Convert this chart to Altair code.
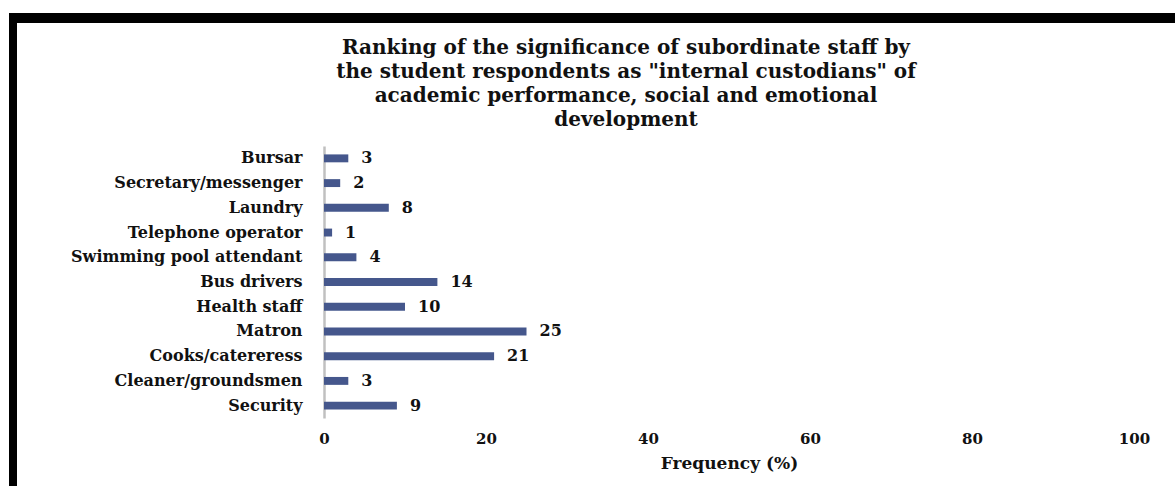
import altair as alt
import pandas as pd

# Staff categories (top to bottom) and their frequencies in percent
staff = [
    "Bursar",
    "Secretary/messenger",
    "Laundry",
    "Telephone operator",
    "Swimming pool attendant",
    "Bus drivers",
    "Health staff",
    "Matron",
    "Cooks/catereress",
    "Cleaner/groundsmen",
    "Security",
]
frequency = [3, 2, 8, 1, 4, 14, 10, 25, 21, 3, 9]
x_ticks = [0, 20, 40, 60, 80, 100]

title_lines = [
    "Ranking of the significance of subordinate staff by",
    'the student respondents as "internal custodians" of',
    "academic performance, social and emotional",
    "development",
]

df = pd.DataFrame({"staff": staff, "freq": frequency})

WIDE = "DejaVu Serif"
BAR = "#45578c"
INK = "#111111"

x_enc = alt.X(
    "freq:Q",
    scale=alt.Scale(domain=[0, 100]),
    axis=alt.Axis(
        values=x_ticks,
        title="Frequency (%)",
        grid=False,
        domain=False,
        ticks=False,
        labelFlush=False,
        labelPadding=13,
        titlePadding=9,
        labelFontSize=15,
        titleFontSize=17,
    ),
)
y_enc = alt.Y(
    "staff:N",
    sort=staff,
    scale=alt.Scale(paddingInner=0.68, paddingOuter=0.34),
    axis=alt.Axis(
        title=None,
        ticks=False,
        domainColor="#c0c0c0",
        domainWidth=2.5,
        labelPadding=22,
        labelFontSize=16,
        labelLimit=0,
    ),
)

bars = alt.Chart(df).mark_bar(color=BAR).encode(x=x_enc, y=y_enc)

labels = alt.Chart(df).mark_text(
    align="left", dx=13, font=WIDE, fontWeight="bold", fontSize=16, color=INK
).encode(x="freq:Q", y=alt.Y("staff:N", sort=staff), text="freq:Q")

# Four-line heading centred over the figure
heading = alt.Chart(pd.DataFrame({"k": [0]})).mark_text(
    text=title_lines,
    font=WIDE,
    fontWeight="bold",
    fontSize=20,
    lineHeight=24,
    color=INK,
    align="center",
    baseline="top",
).encode(x=alt.value(302), y=alt.value(-108))

# Black frame along the top and left edges of the figure
frame_top = alt.Chart(df).mark_rule(color="black", strokeWidth=9).encode(
    x=alt.value(-315), x2=alt.value(860), y=alt.value(-128)
)
frame_left = alt.Chart(df).mark_rule(color="black", strokeWidth=8).encode(
    x=alt.value(-311), y=alt.value(-132), y2=alt.value(345)
)

chart = (
    alt.layer(bars, labels, heading, frame_top, frame_left)
    .properties(
        width=810,
        height=272,
        padding={"left": 324, "top": 146, "right": 41, "bottom": 68},
        autosize=alt.AutoSizeParams(type="none"),
    )
    .configure_view(stroke=None)
    .configure_axis(
        labelFont=WIDE,
        labelFontWeight="bold",
        labelColor=INK,
        titleFont=WIDE,
        titleFontWeight="bold",
        titleColor=INK,
    )
)

chart.save("out.html", embed_options={"renderer": "svg", "actions": False})
